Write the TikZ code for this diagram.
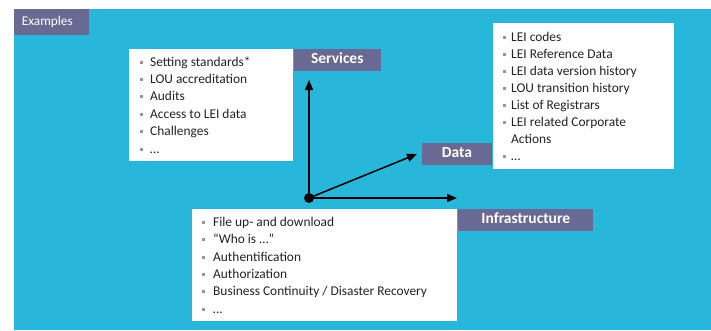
\documentclass[tikz,border=0pt]{standalone}
\usepackage{fontspec}
\setmainfont{Carlito}
\usetikzlibrary{arrows.meta}
\definecolor{bgblue}{RGB}{41,182,219}
\definecolor{slate}{RGB}{104,106,148}
\definecolor{bulgray}{RGB}{150,150,150}
\definecolor{txt}{RGB}{35,35,35}
\begin{document}
\begin{tikzpicture}[x=1pt,y=-1pt,
  listbox/.style={fill=white,draw=none,inner sep=0,minimum width=#1},
  tag/.style={fill=slate,text=white,font=\fontsize{15.5}{18}\selectfont\bfseries,inner sep=0,
    text height=6.4pt,text depth=0pt,minimum height=21.7pt},
  item/.style={anchor=base west,inner sep=0,text=txt,font=\fontsize{13.4}{16}\selectfont},
  bul/.style={fill=bulgray,minimum size=3pt,inner sep=0},
  arr/.style={line width=1.5pt,-{Triangle[length=10pt,width=8pt]}}]
\useasboundingbox (0,0) rectangle (711,330);
\fill[white] (0,0) rectangle (711,330);
\fill[bgblue] (14,9) rectangle (711,330);
% Examples
\node[fill=slate,inner sep=0,minimum width=75pt,minimum height=26pt] (ex) at (51.5,22) {};
\node[anchor=base west,inner sep=0,text=white,font=\fontsize{13.3}{16}\selectfont] (ext) at (21.7,25.7) {Examples};
% list boxes
\node[listbox=164pt,minimum height=112pt] (sbox) at (211,105) {};
\node[listbox=181pt,minimum height=146pt] (dbox) at (583.5,96) {};
\node[listbox=265pt,minimum height=112pt] (ibox) at (324.5,265) {};
% labels
\node[tag,minimum width=86.7pt] (serv) at (337.3,59.9) {Services};
\node[tag,minimum width=70.6pt] (data) at (457,153.9) {Data};
\node[tag,minimum width=135pt] (infra) at (525.8,219.9) {Infrastructure};
% services items
\foreach \t [count=\i from 0] in {{Setting standards*},{LOU accreditation},{Audits},{Access to LEI data},{Challenges},{…}}{
  \node[bul] (sb\i) at (141.2,{62+\i*17.4}) {};
  \node[item] (st\i) at (150,{66+\i*17.4}) {\t};
}
% data items
\foreach \t [count=\i from 0] in {{LEI codes},{LEI Reference Data},{LEI data version history},{LOU transition history},{List of Registrars},{LEI related Corporate}}{
  \node[bul] (db\i) at (504.8,{37+\i*17}) {};
  \node[item] (dt\i) at (511,{41+\i*17}) {\t};
}
\node[item] (dt6) at (511,143) {Actions};
\node[bul] (db7) at (504.8,156) {};
\node[item] (dt7) at (511,160) {…};
% infrastructure items
\foreach \t [count=\i from 0] in {{File up- and download},{“Who is …”},{Authentification},{Authorization},{Business Continuity / Disaster Recovery},{…}}{
  \node[bul] (ib\i) at (203,{222.5+\i*17.3}) {};
  \node[item] (it\i) at (213,{226.5+\i*17.3}) {\t};
}
% arrows
\node[circle,fill=black,inner sep=0,minimum size=10pt] (o) at (309,198) {};
\coordinate (tipS) at (309,80);
\coordinate (tipD) at (417,154);
\coordinate (tipI) at (457,198);
\draw[arr] (o.center) -- (tipS);
\draw[arr] (o.center) -- (tipD);
\draw[arr] (o.center) -- (tipI);
\end{tikzpicture}
\end{document}
